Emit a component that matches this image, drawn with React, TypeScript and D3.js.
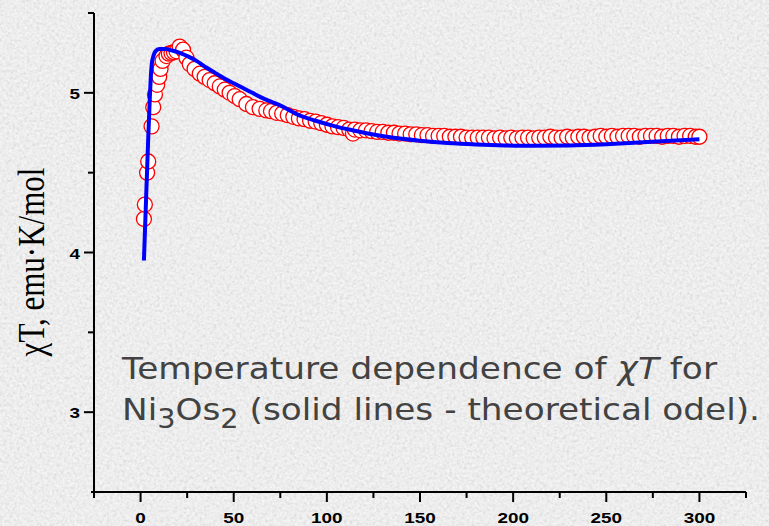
import React from "react";
import * as d3 from "d3";

// Measured data: temperature (K) and chiT (emu·K/mol)
const T_DATA = [1.8, 2.3, 3.5, 4.1, 5.9, 6.8, 7.7, 8.9, 10, 10.7, 11.8, 13.9, 15.2, 16.6, 17.9, 19.3, 21, 22.8, 24.6, 26.4, 29, 31.8, 34.4, 37.1, 39.8, 42.5, 45.2, 47.8, 50.5, 53.2, 56.8, 60.3, 63.9, 67.5, 70, 73, 76, 79, 82, 85, 88, 91, 94, 97, 100, 103, 106, 109, 112, 114, 115, 118, 121, 124, 127, 130, 133, 136, 139, 142, 145, 148, 151, 154, 157, 160, 163, 166, 169, 172, 175, 178, 181, 184, 187, 190, 193, 196, 199, 202, 205, 208, 211, 214, 217, 220, 223, 226, 229, 232, 235, 238, 241, 244, 247, 250, 253, 256, 259, 262, 265, 268, 271, 274, 277, 280, 283, 286, 289, 292, 295, 298, 300];
const CHI_DATA = [4.21, 4.30, 4.50, 4.57, 4.79, 4.91, 4.99, 5.05, 5.10, 5.15, 5.20, 5.23, 5.245, 5.25, 5.255, 5.26, 5.29, 5.27, 5.22, 5.18, 5.15, 5.12, 5.10, 5.08, 5.06, 5.04, 5.02, 5.00, 4.98, 4.96, 4.93, 4.91, 4.90, 4.89, 4.885, 4.875, 4.87, 4.86, 4.85, 4.84, 4.835, 4.825, 4.82, 4.81, 4.80, 4.79, 4.785, 4.78, 4.77, 4.745, 4.77, 4.765, 4.765, 4.76, 4.755, 4.755, 4.75, 4.75, 4.745, 4.745, 4.74, 4.74, 4.735, 4.735, 4.73, 4.73, 4.73, 4.725, 4.725, 4.725, 4.72, 4.72, 4.72, 4.72, 4.72, 4.715, 4.72, 4.715, 4.72, 4.715, 4.72, 4.72, 4.715, 4.72, 4.72, 4.725, 4.72, 4.72, 4.725, 4.72, 4.725, 4.725, 4.72, 4.725, 4.73, 4.725, 4.73, 4.725, 4.73, 4.73, 4.73, 4.725, 4.73, 4.73, 4.73, 4.725, 4.73, 4.73, 4.725, 4.73, 4.73, 4.725, 4.725];

// Theoretical model (solid line)
const T_FIT = [1.8, 3, 4, 5, 5.5, 6, 7, 8, 10, 13, 17, 21, 26, 30, 35, 40, 45, 50, 55, 60, 65, 70, 76, 85, 94, 103, 112, 122, 135, 150, 165, 180, 192, 210, 230, 250, 265, 280, 300];
const CHI_FIT = [3.95, 4.35, 4.68, 4.98, 5.10, 5.18, 5.235, 5.26, 5.275, 5.275, 5.265, 5.25, 5.225, 5.20, 5.16, 5.125, 5.09, 5.06, 5.03, 5.00, 4.97, 4.945, 4.915, 4.86, 4.825, 4.795, 4.77, 4.745, 4.72, 4.70, 4.686, 4.677, 4.672, 4.668, 4.67, 4.678, 4.687, 4.697, 4.71];

const X_MAJOR = [0, 50, 100, 150, 200, 250, 300];
const X_MINOR = [-25, 25, 75, 125, 175, 225, 275, 325];
const Y_MAJOR = [3, 4, 5];
const Y_MINOR = [2.5, 3.5, 4.5, 5.5];

const W = 769;
const H = 526;

export default function App() {
  const x = d3.scaleLinear().domain([-25, 325]).range([94, 746]);
  const y = d3.scaleLinear().domain([2.5, 5.5]).range([492, 13]);

  const fitPts: [number, number][] = T_FIT.map((t, i) => [t, CHI_FIT[i]]);
  const line = d3
    .line<[number, number]>()
    .x((d) => x(d[0]))
    .y((d) => y(d[1]))
    .curve(d3.curveMonotoneX);

  const tickFont = "'Liberation Sans', Arial, sans-serif";

  return (
    <svg
      width={W}
      height={H}
      style={{ position: "fixed", left: 0, top: 0, display: "block" }}
    >
      <defs>
        <filter id="dark" x="0" y="0" width="100%" height="100%">
          <feTurbulence type="fractalNoise" baseFrequency="0.3" numOctaves="3" seed="7" />
          <feColorMatrix
            type="matrix"
            values="0 0 0 0 0.5  0 0 0 0 0.5  0 0 0 0 0.5  0.9 0 0 0 -0.4"
          />
        </filter>
        <filter id="light" x="0" y="0" width="100%" height="100%">
          <feTurbulence type="fractalNoise" baseFrequency="0.4" numOctaves="2" seed="21" />
          <feColorMatrix
            type="matrix"
            values="0 0 0 0 1  0 0 0 0 1  0 0 0 0 1  0 1.3 0 0 -0.45"
          />
        </filter>
      </defs>
      <rect x={0} y={0} width={W} height={H} fill="#ebebeb" />
      <rect x={0} y={0} width={W} height={H} filter="url(#dark)" />
      <rect x={0} y={0} width={W} height={H} filter="url(#light)" />

      {/* axes */}
      <g stroke="#000" strokeWidth={2} fill="none">
        <line x1={x(-25)} x2={x(-25)} y1={y(5.5)} y2={y(2.5)} />
        <line x1={x(-25) - 3} x2={x(325)} y1={y(2.5)} y2={y(2.5)} />
        {Y_MAJOR.map((v) => (
          <line key={"ym" + v} x1={x(-25) - 10} x2={x(-25)} y1={y(v)} y2={y(v)} />
        ))}
        {Y_MINOR.filter((v) => v > 2.5).map((v) => (
          <line key={"yn" + v} x1={x(-25) - 6} x2={x(-25)} y1={y(v)} y2={y(v)} />
        ))}
        {X_MAJOR.map((v) => (
          <line key={"xm" + v} x1={x(v)} x2={x(v)} y1={y(2.5)} y2={y(2.5) + 10} />
        ))}
        {X_MINOR.map((v) => (
          <line key={"xn" + v} x1={x(v)} x2={x(v)} y1={y(2.5)} y2={y(2.5) + 6} />
        ))}
      </g>

      {/* tick labels */}
      <g fontFamily={tickFont} fontWeight="bold" fontSize={15.5} fill="#000">
        {X_MAJOR.map((v) => (
          <text
            key={"xl" + v}
            transform={`translate(${x(v)},${y(2.5) + 30.5}) scale(1.22,1)`}
            textAnchor="middle"
          >
            {v}
          </text>
        ))}
        {Y_MAJOR.map((v) => (
          <text
            key={"yl" + v}
            transform={`translate(${x(-25) - 14},${y(v) + 6}) scale(1.22,1)`}
            textAnchor="end"
          >
            {v}
          </text>
        ))}
      </g>

      {/* y axis title */}
      <text
        transform="translate(44,262) rotate(-90) scale(1,1.25)"
        textAnchor="middle"
        fontFamily="'Liberation Serif', 'Times New Roman', serif"
        fontSize={31}
        fill="#000"
      >
        χT, emu·K/mol
      </text>

      {/* data */}
      <g fill="#ffffff" stroke="#ff0000" strokeWidth={1.3}>
        {T_DATA.map((t, i) => (
          <circle key={"c" + i} cx={x(t)} cy={y(CHI_DATA[i])} r={7.5} />
        ))}
      </g>
      <path d={line(fitPts) || ""} fill="none" stroke="#0000ff" strokeWidth={4} strokeLinejoin="round" />

      {/* annotation */}
      <g fontFamily="'DejaVu Sans', Verdana, sans-serif" fontSize={31} fill="#424242">
        <text x={122} y={379} textLength={595} lengthAdjust="spacingAndGlyphs">
          Temperature dependence of <tspan fontStyle="italic">χT</tspan> for
        </text>
        <text x={122} y={420} textLength={638} lengthAdjust="spacingAndGlyphs">
          Ni<tspan fontSize={26} dy={8}>3</tspan>
          <tspan dy={-8}>Os</tspan>
          <tspan fontSize={26} dy={8}>2</tspan>
          <tspan dy={-8}> (solid lines - theoretical odel).</tspan>
        </text>
      </g>
    </svg>
  );
}
